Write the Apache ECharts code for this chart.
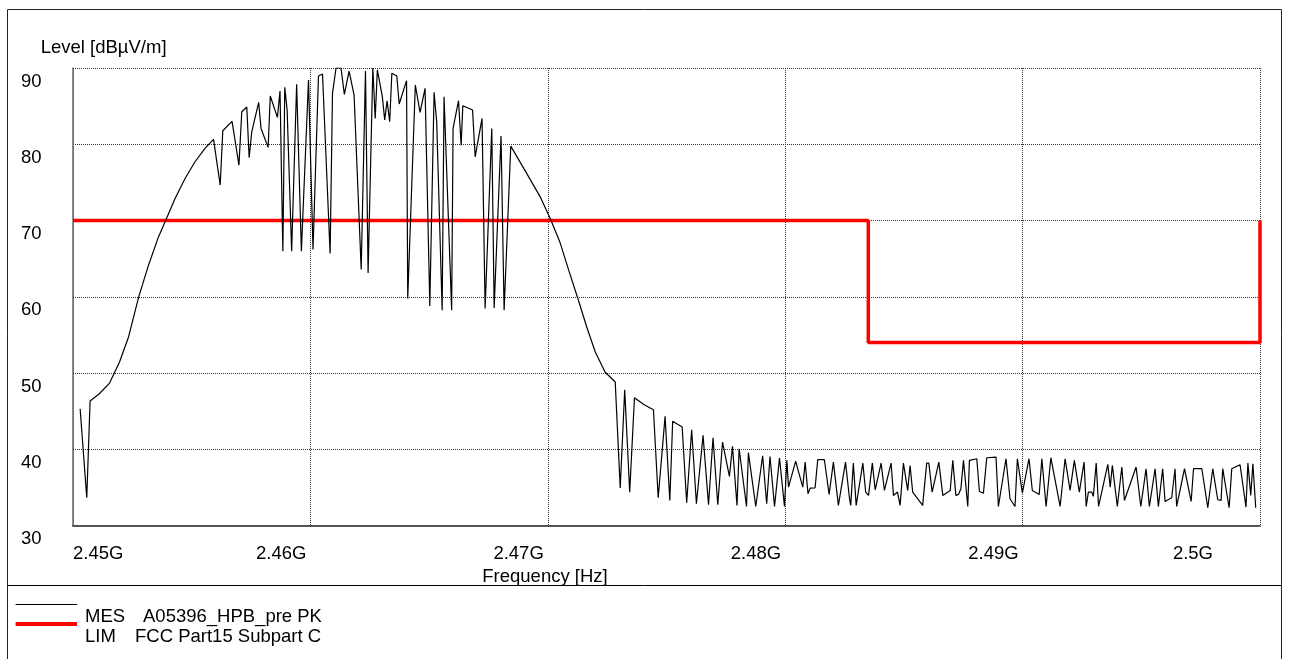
<!DOCTYPE html>
<html>
<head>
<meta charset="utf-8">
<script src="https://cdn.jsdelivr.net/npm/echarts@6/dist/echarts.min.js"></script>
<style>
html,body{margin:0;padding:0;background:#fff;}
#chart{width:1290px;height:659px;}
</style>
</head>
<body>
<div id="chart"></div>
<script>
// ---- tick labels ----
const xTickLabels = ['2.45G', '2.46G', '2.47G', '2.48G', '2.49G', '2.5G'];
const yTickLabels = ['30', '40', '50', '60', '70', '80', '90'];

// ---- MES trace (frequency in MHz, level in dBµV/m) ----
const mesFreqMHz = [
  2450.30, 2450.58, 2450.72, 2451.11, 2451.54, 2451.96, 2452.34, 2452.76, 2453.18, 2453.60,
  2453.92, 2454.30, 2454.72, 2455.14, 2455.56, 2455.92, 2456.20, 2456.31, 2456.70, 2456.99,
  2457.11, 2457.32, 2457.42, 2457.53, 2457.82, 2457.92, 2458.22, 2458.31, 2458.61, 2458.72,
  2458.84, 2458.92, 2459.02, 2459.21, 2459.42, 2459.62, 2459.92, 2460.11, 2460.34,
  2460.51, 2460.83, 2460.93, 2461.08, 2461.29, 2461.43, 2461.63, 2461.84, 2462.14, 2462.32,
  2462.43, 2462.63, 2462.73, 2462.82, 2463.03, 2463.13, 2463.23, 2463.34, 2463.43, 2463.64,
  2463.74, 2464.05, 2464.10, 2464.42, 2464.62, 2464.83, 2465.03, 2465.21, 2465.32, 2465.55,
  2465.63, 2465.95, 2466.01, 2466.24, 2466.35, 2466.42, 2466.83, 2466.94, 2467.23, 2467.36,
  2467.64, 2467.74, 2468.03, 2468.16, 2468.44, 2469.11, 2469.68, 2470.12, 2470.52,
  2470.90, 2471.29, 2471.64, 2472.00, 2472.41, 2472.84, 2473.05, 2473.24, 2473.45, 2473.65,
  2474.06, 2474.45, 2474.65, 2474.94, 2475.14, 2475.26, 2475.66, 2475.85, 2476.06, 2476.26,
  2476.54, 2476.77, 2476.96, 2477.16, 2477.36, 2477.65, 2477.78, 2477.97, 2478.06, 2478.37,
  2478.45, 2478.76, 2479.05, 2479.22, 2479.36, 2479.55, 2479.76, 2479.97,
  2480.07, 2480.14, 2480.44, 2480.74, 2480.84, 2480.96, 2481.05, 2481.26, 2481.37, 2481.65,
  2481.85, 2482.03, 2482.24, 2482.54, 2482.71, 2482.76, 2482.87, 2482.99, 2483.27, 2483.39,
  2483.51, 2483.67, 2483.79, 2484.04, 2484.18, 2484.46, 2484.56, 2484.73, 2484.84, 2484.98,
  2485.16, 2485.26, 2485.37, 2485.79, 2485.96, 2486.05, 2486.19, 2486.47, 2486.64, 2486.95,
  2487.06, 2487.19, 2487.30, 2487.40, 2487.51, 2487.69, 2487.76, 2488.07, 2488.18, 2488.35,
  2488.49, 2488.88, 2488.98, 2489.30, 2489.47, 2489.68, 2489.78, 2489.99,
  2490.27, 2490.41, 2490.70, 2490.81, 2490.99, 2491.19, 2491.27, 2491.58, 2491.79, 2492.00,
  2492.18, 2492.39, 2492.59, 2492.68, 2492.77, 2492.91, 2492.98, 2493.10, 2493.20, 2493.59,
  2493.69, 2493.78, 2493.99, 2494.18, 2494.29, 2494.78, 2494.98, 2495.20, 2495.34, 2495.58,
  2495.72, 2495.90, 2496.00, 2496.28, 2496.42, 2496.49, 2496.82, 2497.10, 2497.20, 2497.55,
  2497.80, 2498.01, 2498.22, 2498.36, 2498.43, 2498.70, 2498.81, 2499.16, 2499.41, 2499.49,
  2499.61, 2499.70, 2499.82
];
const mesLevel = [
  45.34, 33.66, 46.34, 47.30, 48.70, 51.46, 54.74, 59.90, 64.15, 67.86,
  70.14, 72.90, 75.52, 77.71, 79.46, 80.64, 74.65, 81.78, 83.00, 77.27,
  84.27, 84.88, 78.23, 81.64, 85.49, 82.08, 79.59, 86.33, 83.53, 86.98,
  65.98, 87.46, 84.49, 65.98, 87.86, 65.98, 88.43, 66.20, 88.95,
  89.21, 65.68, 86.68, 90.00, 90.00, 86.54, 89.60, 86.46, 63.58, 89.60,
  63.14, 90.00, 83.39, 89.74, 86.24, 83.18, 85.71, 82.96, 89.30, 88.95,
  85.28, 88.34, 59.77, 87.77, 84.18, 87.33, 58.81, 86.81, 82.96, 58.24,
  86.24, 58.24, 82.08, 85.71, 79.85, 85.06, 84.49, 78.36, 83.39, 58.46,
  82.08, 58.55, 81.08, 58.24, 79.76, 76.18, 73.11, 70.14, 67.08,
  63.30, 59.55, 56.05, 52.77, 50.15, 48.84, 34.93, 47.83, 34.40, 46.78,
  45.86, 45.21, 33.66, 44.33, 33.31, 43.68, 42.93, 33.00, 42.58, 32.87,
  41.84, 32.74, 41.53, 32.74, 40.97, 36.46, 40.40, 32.65, 40.09, 32.52,
  39.57, 32.52, 39.17, 32.87, 39.08, 32.52, 38.87, 32.52,
  38.56, 35.06, 38.47, 35.06, 38.34, 34.19, 34.93, 34.97, 38.65, 38.65,
  34.10, 38.34, 32.66, 38.34, 33.53, 32.66, 38.21, 32.66, 38.21, 34.41,
  33.97, 38.21, 34.71, 38.21, 34.62, 38.21, 33.97, 34.41, 32.66, 38.21,
  34.62, 37.90, 34.41, 32.66, 38.21, 38.21, 34.41, 38.34, 33.97, 34.62,
  38.56, 33.97, 34.10, 34.84, 38.56, 32.52, 38.56, 38.78, 34.49, 34.27,
  38.91, 38.99, 32.52, 38.78, 33.53, 32.52, 38.78, 34.27,
  38.78, 34.62, 34.10, 38.78, 32.52, 38.91, 38.91, 32.52, 38.78, 34.62,
  38.56, 34.41, 38.34, 32.52, 34.41, 34.41, 33.84, 38.21, 32.52, 38.04,
  35.06, 37.90, 32.52, 37.69, 33.31, 37.69, 32.52, 37.47, 32.52, 37.47,
  32.52, 37.47, 33.18, 33.66, 37.47, 32.52, 37.47, 33.18, 37.47, 37.47,
  32.35, 37.47, 33.40, 33.31, 37.47, 32.35, 37.47, 37.99, 32.44, 38.21,
  33.97, 38.12, 32.35
];

// ---- LIM line (FCC Part15 Subpart C) ----
const limFreqMHz = [2450, 2483.5, 2483.5, 2500, 2500];
const limLevel = [70, 70, 54, 54, 70];

// ---- legend / titles ----
const mesName = ['MES', 'A05396_HPB_pre PK'];
const limName = ['LIM', 'FCC Part15 Subpart C'];
const yTitle = 'Level [dBµV/m]';
const xTitle = 'Frequency [Hz]';

const FONT = 'Liberation Sans, Arial, sans-serif';
const FS = 18.5;

const chart = echarts.init(document.getElementById('chart'), null, {renderer: 'canvas'});

const textStyle = (x, y, text, align) => ({
  type: 'text',
  silent: true,
  style: {x: x, y: y, text: text, fill: '#000', fontSize: FS, fontFamily: FONT,
          align: align || 'left', verticalAlign: 'middle'}
});

const option = {
  animation: false,
  backgroundColor: '#fff',
  grid: {left: 73, right: 30, top: 68, bottom: 133.3, containLabel: false},
  xAxis: {
    type: 'value',
    min: 2450, max: 2500, interval: 10,
    axisLine: {show: true, onZero: false, lineStyle: {color: '#555', width: 1.8}},
    axisTick: {show: false},
    splitLine: {show: true, lineStyle: {color: '#333', width: 1, type: [1, 1]}},
    axisLabel: {
      show: true,
      color: '#000', fontSize: FS, fontFamily: FONT,
      margin: 18.5,
      align: 'right',
      padding: [0, 4, 0, 0],
      alignMinLabel: 'left',
      alignMaxLabel: 'right',
      formatter: function (v) {
        const i = Math.round((v - 2450) / 10);
        const s = xTickLabels[i];
        return i === xTickLabels.length - 1 ? '{last|' + s + '}' : s;
      },
      rich: {last: {fontSize: FS, fontFamily: FONT, color: '#000', padding: [0, 43, 0, 0]}}
    }
  },
  yAxis: {
    type: 'value',
    min: 30, max: 90, interval: 10,
    axisLine: {show: true, lineStyle: {color: '#666', width: 1.5}},
    axisTick: {show: false},
    splitLine: {show: true, lineStyle: {color: '#333', width: 1, type: [1, 1]}},
    axisLabel: {
      show: true,
      color: '#000', fontSize: FS, fontFamily: FONT,
      align: 'left',
      margin: 52,
      verticalAlign: 'top',
      formatter: function (v) { return '{t|' + yTickLabels[Math.round((v - 30) / 10)] + '}'; },
      rich: {t: {fontSize: FS, fontFamily: FONT, color: '#000', padding: [4, 0, 0, 0]}}
    }
  },
  series: [
    {
      name: limName.join(' '),
      type: 'line',
      data: limFreqMHz.map((f, i) => [f, limLevel[i]]),
      showSymbol: false,
      symbol: 'none',
      lineStyle: {color: '#ff0000', width: 3.5},
      z: 2
    },
    {
      name: mesName.join(' '),
      type: 'line',
      data: mesFreqMHz.map((f, i) => [f, mesLevel[i]]),
      showSymbol: false,
      symbol: 'none',
      lineStyle: {color: '#000', width: 1.2},
      z: 3
    }
  ],
  graphic: [
    {type: 'rect', silent: true, shape: {x: 7.5, y: 9.5, width: 1274, height: 700},
     style: {fill: 'none', stroke: '#222', lineWidth: 1}},
    {type: 'line', silent: true, shape: {x1: 7.5, y1: 585.5, x2: 1281.5, y2: 585.5},
     style: {stroke: '#000', lineWidth: 1}},
    textStyle(40.7, 48, yTitle),
    textStyle(545, 577, xTitle, 'center'),
    {type: 'line', silent: true, shape: {x1: 15.6, y1: 604.5, x2: 77, y2: 604.5},
     style: {stroke: '#000', lineWidth: 1}},
    {type: 'line', silent: true, shape: {x1: 15.6, y1: 624, x2: 77, y2: 624},
     style: {stroke: '#ff0000', lineWidth: 4}},
    textStyle(85, 617, mesName[0]),
    textStyle(143, 617, mesName[1]),
    textStyle(85, 636.5, limName[0]),
    textStyle(135, 636.5, limName[1])
  ]
};

chart.setOption(option);
</script>
</body>
</html>
